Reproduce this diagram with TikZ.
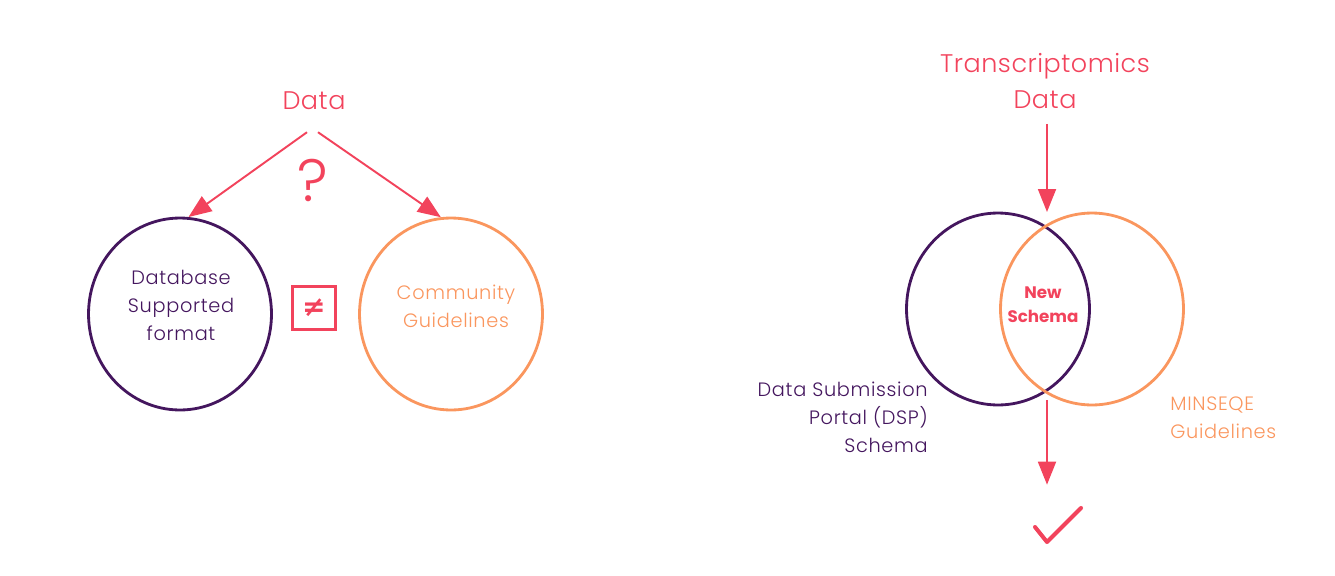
\documentclass[tikz,border=0pt]{standalone}
\usepackage{fontspec}
\setmainfont{Poppins}
\newfontfamily\symbolfont{DejaVu Sans}
\IfFontExistsTF{Poppins Light}
    {\newfontfamily\lightfont{Poppins Light}}
    {\newfontfamily\lightfont{Poppins}}
\usetikzlibrary{positioning,arrows.meta,calc,shapes.geometric}
\definecolor{datared}{HTML}{F2435C}
\definecolor{dbpurple}{HTML}{44165E}
\definecolor{guideorange}{HTML}{FA965E}

\begin{document}
\begin{tikzpicture}[
    x=0.02cm, y=-0.02cm,
    title/.style={
        font=\fontsize{14.5}{20.5}\selectfont\lightfont\addfontfeature{LetterSpace=2},
        text=datared,
        align=center,
    },
    body/.style={
        font=\fontsize{11}{15.9}\selectfont\lightfont\addfontfeature{LetterSpace=3.5},
        text=#1,
        align=center,
    },
    setring/.style={
        ellipse,
        draw=#1,
        line width=1.6pt,
        minimum width=3.66cm,
        minimum height=3.84cm,
    },
    neqbox/.style={
        draw=datared,
        line width=1.8pt,
        minimum size=0.86cm,
        inner sep=0pt,
        text=datared,
        font=\fontsize{16}{16}\selectfont\symbolfont\bfseries,
    },
    arrow/.style={-{Triangle[length=0.46cm,width=0.36cm]},line width=1.1pt,color=datared},
    newlbl/.style={font=\fontsize{9.5}{13.6}\selectfont\bfseries,text=datared,align=center},
]
\useasboundingbox (0,0) rectangle (1335,575);

% Left: data without an agreed format
\node[title] (data) at (314,101) {Data};
\node[font=\fontsize{34}{34}\selectfont\lightfont,text=datared] (qmark) at (313,180) {?};

\node[setring=dbpurple] (dbfmt) at (180,314) {};
\node[body=dbpurple] (dbtext) at (181,305) {Database\\Supported\\format};

\node[setring=guideorange] (community) at (451,314) {};
\node[body=guideorange] (commtext) at (456,306) {Community\\Guidelines};

\node[neqbox] (neq) at (314,308) {≠};

\draw[arrow] ($(data.south)+(-7,16)$) -- (dbfmt.85);
\draw[arrow] ($(data.south)+(4,16)$) -- (community.96);

% Right: combined schema
\node[title] (tdata) at (1045,81) {Transcriptomics\\Data};

\node[setring=dbpurple] (dsp) at (998,309) {};
\node[setring=guideorange] (minseqe) at (1092,309) {};
\node[newlbl] (schema) at (1043,305) {New\\Schema};

\node[body=dbpurple,align=right,anchor=east,inner sep=0pt] (dsptext) at (928,417)
    {Data Submission\\Portal (DSP)\\Schema};
\node[body=guideorange,align=left,anchor=west,inner sep=0pt] (minseqetext) at (1170,418)
    {MINSEQE\\Guidelines};

\coordinate (lenstop) at (1047,212);
\coordinate (lensbot) at (1047,400);
\node[minimum width=1cm,minimum height=0.8cm,inner sep=0pt] (tick) at (1058,525) {};

\draw[arrow,shorten <=0.18cm] (tdata.south -| lenstop) -- (lenstop);
\draw[arrow,shorten >=0.4cm] (lensbot) -- (lensbot |- tick.north);

% check mark
\draw[datared,line width=2.3pt,line cap=round,line join=round]
    ($(tick)+(-23,2)$) -- ($(tick)+(-11,17)$) -- ($(tick)+(23,-17)$);

\end{tikzpicture}
\end{document}
